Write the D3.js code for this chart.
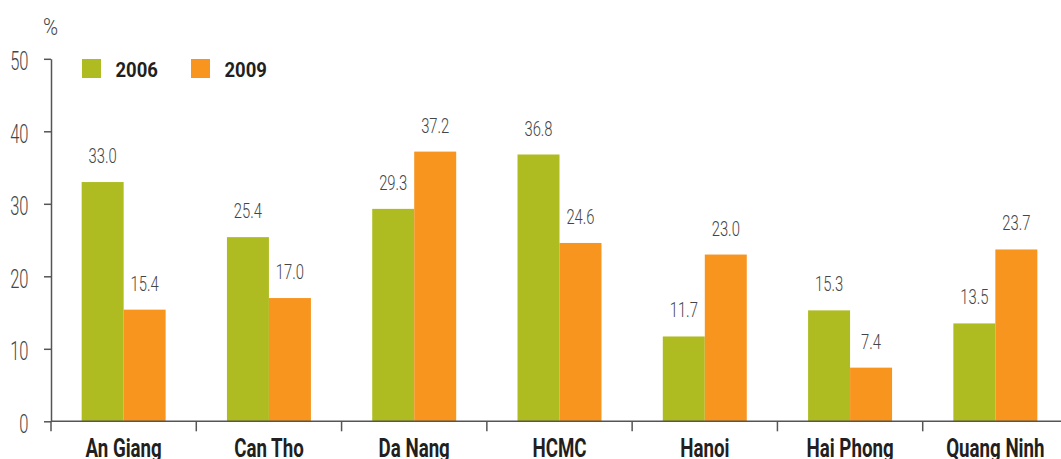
<!DOCTYPE html>
<html>
<head>
<meta charset="utf-8">
<script src="https://cdn.jsdelivr.net/npm/d3@7"></script>
<style>
  html, body { margin: 0; padding: 0; background: #fff; }
  svg { display: block; }
  text { font-family: Roboto, "Open Sans", sans-serif; }
</style>
</head>
<body>
<svg id="chart" width="1061" height="459"></svg>
<script>
// Chart data
const categories = ["An Giang", "Can Tho", "Da Nang", "HCMC", "Hanoi", "Hai Phong", "Quang Ninh"];
const seriesNames = ["2006", "2009"];
const values2006 = [33.0, 25.4, 29.3, 36.8, 11.7, 15.3, 13.5];
const values2009 = [15.4, 17.0, 37.2, 24.6, 23.0, 7.4, 23.7];
const yTicks = [0, 10, 20, 30, 40, 50];

const seriesValues = [values2006, values2009];
const colors = ["#aebc21", "#f7951f"];

const svg = d3.select("#chart");
const W = 1061, H = 459;
const x0Left = 51, x0Right = 1068;
const yTop = 58.8, yBottom = 421.3;
const axisColor = "#555";
const lightText = "#454545";
const darkText = "#231f20";

const x0 = d3.scaleBand()
  .domain(categories)
  .range([x0Left, x0Right])
  .paddingInner(0.422)
  .paddingOuter(0.211);

const x1 = d3.scaleBand()
  .domain(seriesNames)
  .range([0, x0.bandwidth()]);

const y = d3.scaleLinear().domain([0, 50]).range([yBottom, yTop]);

// Condensed text: place at (x, y) and squeeze horizontally
function condensed(sel, sx) {
  return sel.attr("transform", function () {
    const tx = +this.getAttribute("data-x"), ty = +this.getAttribute("data-y");
    return `translate(${tx},${ty}) scale(${sx},1)`;
  });
}

// Bars
const rows = categories.map((c, i) => ({ cat: c, vals: seriesNames.map((s, k) => ({ s, k, v: seriesValues[k][i] })) }));

const groups = svg.append("g").selectAll("g")
  .data(rows).join("g")
  .attr("transform", d => `translate(${x0(d.cat)},0)`);

groups.selectAll("rect")
  .data(d => d.vals).join("rect")
  .attr("x", d => x1(d.s))
  .attr("width", x1.bandwidth())
  .attr("y", d => y(d.v))
  .attr("height", d => y(0) - y(d.v))
  .attr("fill", d => colors[d.k]);

// Value labels
groups.selectAll("text.val")
  .data(d => d.vals).join("text")
  .attr("class", "val")
  .attr("data-x", d => x1(d.s) + x1.bandwidth() / 2)
  .attr("data-y", d => y(d.v) - 19)
  .attr("text-anchor", "middle")
  .attr("font-size", 20)
  .attr("font-weight", 300)
  .attr("fill", lightText)
  .text(d => d.v.toFixed(1))
  .call(condensed, 0.74);

// Y axis
const yAxis = d3.axisLeft(y).tickValues(yTicks).tickSize(7).tickFormat("").tickSizeOuter(0);
const gy = svg.append("g").attr("transform", `translate(${x0Left},0)`).call(yAxis);
gy.select(".domain").attr("stroke", axisColor).attr("stroke-width", 1.5);
gy.selectAll(".tick line").attr("stroke", axisColor).attr("stroke-width", 1.5);
gy.selectAll(".tick text").remove();

svg.append("g").selectAll("text")
  .data(yTicks).join("text")
  .attr("data-x", x0Left - 22.5)
  .attr("data-y", d => y(d) + 11.5)
  .attr("text-anchor", "end")
  .attr("font-size", 25)
  .attr("font-weight", 300)
  .attr("fill", lightText)
  .text(d => d)
  .call(condensed, 0.66);

// X axis with separators between categories
const gx = svg.append("g").attr("transform", `translate(0,${yBottom})`);
gx.append("line")
  .attr("x1", x0Left).attr("x2", W)
  .attr("stroke", axisColor).attr("stroke-width", 1.5);
const boundaries = d3.range(categories.length + 1).map(i => x0Left + i * x0.step());
gx.selectAll("line.sep")
  .data(boundaries).join("line")
  .attr("class", "sep")
  .attr("x1", d => d).attr("x2", d => d)
  .attr("y1", 0).attr("y2", 10)
  .attr("stroke", axisColor).attr("stroke-width", 1.5);
gx.selectAll("text.cat")
  .data(categories).join("text")
  .attr("class", "cat")
  .attr("data-x", d => x0(d) + x0.bandwidth() / 2)
  .attr("data-y", 36)
  .attr("text-anchor", "middle")
  .attr("font-size", 26)
  .attr("font-weight", "bold")
  .attr("fill", darkText)
  .text(d => d)
  .call(condensed, 0.72);

// Unit label
svg.append("text")
  .attr("data-x", 43).attr("data-y", 35)
  .attr("font-size", 24)
  .attr("font-weight", 300)
  .attr("fill", lightText)
  .text("%")
  .call(condensed, 0.85);

// Legend
const legendX = [82, 191];
const legend = svg.append("g").selectAll("g")
  .data(seriesNames).join("g")
  .attr("transform", (d, i) => `translate(${legendX[i]},59)`);
legend.append("rect")
  .attr("width", 19).attr("height", 19)
  .attr("fill", (d, i) => colors[i]);
legend.append("text")
  .attr("data-x", 33.5).attr("data-y", 17.8)
  .attr("font-size", 21)
  .attr("font-weight", "bold")
  .attr("fill", darkText)
  .text(d => d)
  .call(condensed, 0.88);
</script>
</body>
</html>
